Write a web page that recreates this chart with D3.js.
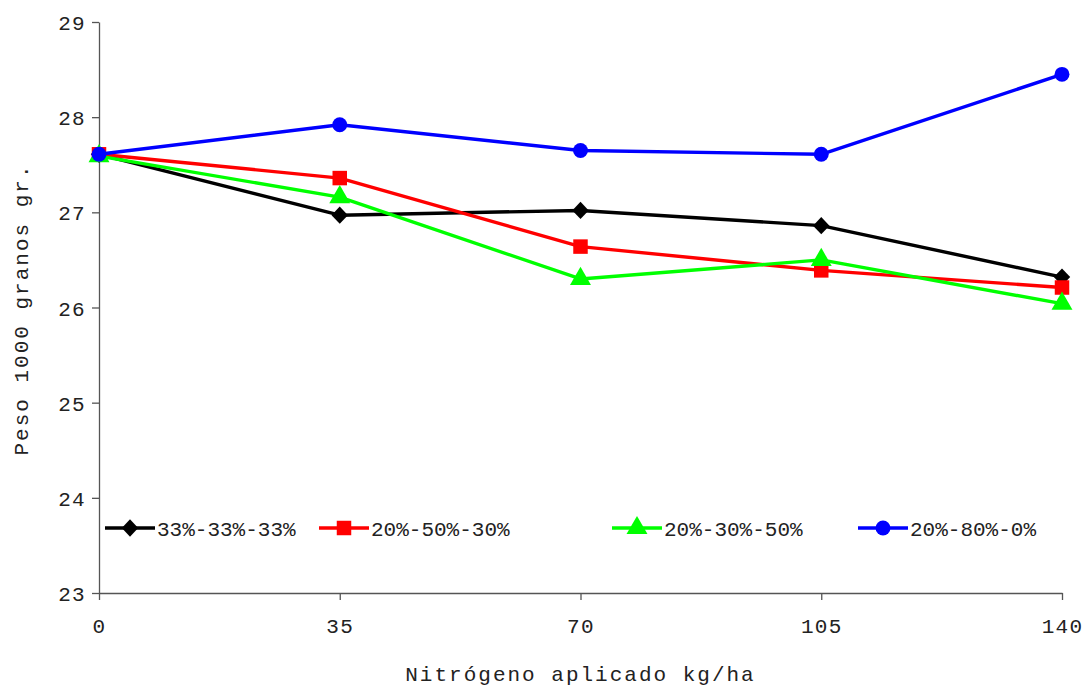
<!DOCTYPE html>
<html>
<head>
<meta charset="utf-8">
<script src="https://cdn.jsdelivr.net/npm/d3@7"></script>
<style>
  html, body { margin: 0; padding: 0; background: #fff; }
</style>
</head>
<body>
<svg id="chart" width="1085" height="687"></svg>
<script>
// Nitrogen doses (kg/ha) and 1000-grain weight per split scheme
const doses = [0, 35, 70, 105, 140];
const xTicks = [0, 35, 70, 105, 140];
const yTicks = [23, 24, 25, 26, 27, 28, 29];
const seriesNames = ["33%-33%-33%", "20%-50%-30%", "20%-30%-50%", "20%-80%-0%"];
const split333333 = [27.61, 26.97, 27.02, 26.86, 26.32];
const split205030 = [27.61, 27.36, 26.64, 26.39, 26.21];
const split203050 = [27.59, 27.16, 26.30, 26.50, 26.04];
const split208000 = [27.61, 27.92, 27.65, 27.61, 28.45];

const FONT = "'Courier New', 'Liberation Mono', monospace";

// Diamond marker, slightly taller than wide
const symbolRhomb = {
  draw(context, size) {
    const r = Math.sqrt(size / 2);
    context.moveTo(0, -r * 1.05);
    context.lineTo(r, 0);
    context.lineTo(0, r * 1.05);
    context.lineTo(-r, 0);
    context.closePath();
  }
};

const series = [
  { name: seriesNames[0], values: split333333, color: "#000000", symbol: symbolRhomb, size: 135 },
  { name: seriesNames[1], values: split205030, color: "#ff0000", symbol: d3.symbolSquare, size: 210 },
  { name: seriesNames[2], values: split203050, color: "#00ff00", symbol: d3.symbolTriangle, size: 190 },
  { name: seriesNames[3], values: split208000, color: "#0000ff", symbol: d3.symbolCircle, size: 175 }
];

const svg = d3.select("#chart");
const margin = { left: 99, right: 23, top: 22, bottom: 94 };
const W = 1085, H = 687;

const x = d3.scaleLinear().domain([0, 140]).range([margin.left, W - margin.right]);
const y = d3.scaleLinear().domain([23, 29]).range([H - margin.bottom, margin.top]);

// Axes
const xAxis = svg.append("g")
  .attr("transform", `translate(0,${y(23)})`)
  .call(d3.axisBottom(x).tickValues(xTicks).tickFormat(d3.format("d"))
    .tickSize(7).tickSizeOuter(0).tickPadding(18));
const yAxis = svg.append("g")
  .attr("transform", `translate(${x(0)},0)`)
  .call(d3.axisLeft(y).tickValues(yTicks).tickFormat(d3.format("d"))
    .tickSize(7).tickSizeOuter(0).tickPadding(6));

[xAxis, yAxis].forEach(g => {
  g.attr("font-family", null).attr("font-size", null);
  g.select(".domain").attr("stroke", "#555").attr("stroke-width", 1.3);
  g.selectAll(".tick line").attr("stroke", "#555").attr("stroke-width", 1.3);
  g.selectAll(".tick text")
    .attr("fill", "#222")
    .style("font-family", FONT)
    .style("font-size", "21px")
    .style("letter-spacing", "1.3px");
});
yAxis.selectAll(".tick text").attr("dy", "0.36em");

// Axis titles
svg.append("text")
  .attr("x", (x(0) + x(140)) / 2)
  .attr("y", 681)
  .attr("text-anchor", "middle")
  .attr("fill", "#222")
  .style("font-family", FONT)
  .style("font-size", "21px")
  .style("letter-spacing", "2px")
  .text("Nitrógeno aplicado kg/ha");

svg.append("text")
  .attr("transform", `translate(28,${(y(23) + y(29)) / 2 + 2}) rotate(-90)`)
  .attr("text-anchor", "middle")
  .attr("fill", "#222")
  .style("font-family", FONT)
  .style("font-size", "21px")
  .style("letter-spacing", "2px")
  .text("Peso 1000 granos gr.");

// Lines and markers
const line = d3.line().x((d, i) => x(doses[i])).y(d => y(d));

series.forEach(s => {
  const g = svg.append("g");
  g.append("path")
    .datum(s.values)
    .attr("d", line)
    .attr("fill", "none")
    .attr("stroke", s.color)
    .attr("stroke-width", 3.4)
    .attr("stroke-linejoin", "round");
  g.selectAll("path.mk")
    .data(s.values)
    .join("path")
    .attr("class", "mk")
    .attr("transform", (d, i) => `translate(${x(doses[i])},${y(d)})`)
    .attr("d", d3.symbol().type(s.symbol).size(s.size))
    .attr("fill", s.color);
});

// Legend
const legendY = 528;
const legendX = [105, 319, 612, 858];
series.forEach((s, i) => {
  const g = svg.append("g").attr("transform", `translate(${legendX[i]},${legendY})`);
  g.append("line")
    .attr("x1", 0).attr("x2", 50)
    .attr("stroke", s.color).attr("stroke-width", 3.4);
  g.append("path")
    .attr("transform", "translate(25,0)")
    .attr("d", d3.symbol().type(s.symbol).size(s.size))
    .attr("fill", s.color);
  g.append("text")
    .attr("x", 52)
    .attr("dy", "0.36em")
    .attr("fill", "#222")
    .style("font-family", FONT)
    .style("font-size", "21px")
    .style("letter-spacing", "0px")
    .text(s.name);
});
</script>
</body>
</html>
